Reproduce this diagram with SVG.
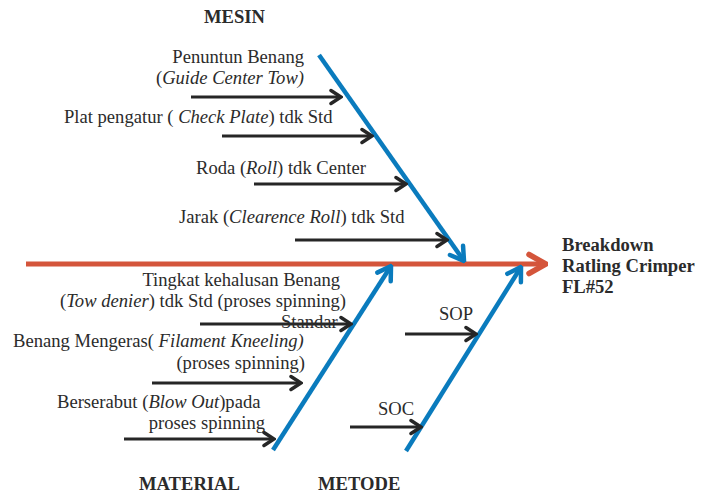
<svg xmlns="http://www.w3.org/2000/svg" width="711" height="494" viewBox="0 0 711 494">
<style>
text{font-family:"Liberation Serif","Times New Roman",serif;font-size:18.6px;fill:#2b2b2b}
.b{font-weight:bold}
.i{font-style:italic}
.e{text-anchor:end}
.blk{stroke:#262626;stroke-width:3;fill:none}
.blu{stroke:#0a7bbd;stroke-width:4.5;fill:none}
.red{stroke:#d4553b;stroke-width:5;fill:none}
</style>
<defs>
<marker id="ak" markerUnits="userSpaceOnUse" viewBox="-14 -10 16 20" refX="0" refY="0" markerWidth="16" markerHeight="20" orient="auto">
<path d="M-10,-6.5 L0,0 L-10,6.5" fill="none" stroke="#262626" stroke-width="3.5" stroke-linecap="round" stroke-linejoin="miter"/>
</marker>
<marker id="ab" markerUnits="userSpaceOnUse" viewBox="-18 -12 20 24" refX="0" refY="0" markerWidth="20" markerHeight="24" orient="auto">
<path d="M-13,-8 L0,0 L-13,8" fill="none" stroke="#0a7bbd" stroke-width="4.5" stroke-linecap="round"/>
</marker>
<marker id="ar" markerUnits="userSpaceOnUse" viewBox="-22 -14 24 28" refX="0" refY="0" markerWidth="24" markerHeight="28" orient="auto">
<path d="M-17,-9.5 L0,0 L-17,9.5" fill="none" stroke="#d4553b" stroke-width="5.5" stroke-linecap="round"/>
</marker>
</defs>
<g id="connectors">
<line class="red" x1="26" y1="264" x2="546" y2="264" marker-end="url(#ar)"/>
<line class="blu" x1="319" y1="55" x2="464" y2="261" marker-end="url(#ab)"/>
<line class="blu" x1="273" y1="450" x2="391" y2="266" marker-end="url(#ab)"/>
<line class="blu" x1="406" y1="451" x2="521" y2="267" marker-end="url(#ab)"/>
<line class="blk" x1="191" y1="97" x2="341" y2="97" marker-end="url(#ak)"/>
<line class="blk" x1="222" y1="136" x2="372" y2="136" marker-end="url(#ak)"/>
<line class="blk" x1="254" y1="184" x2="406" y2="184" marker-end="url(#ak)"/>
<line class="blk" x1="295" y1="240" x2="447" y2="240" marker-end="url(#ak)"/>
<line class="blk" x1="200" y1="324" x2="351" y2="324" marker-end="url(#ak)"/>
<line class="blk" x1="152" y1="383" x2="301" y2="383" marker-end="url(#ak)"/>
<line class="blk" x1="124" y1="439" x2="274" y2="439" marker-end="url(#ak)"/>
<line class="blk" x1="405" y1="334" x2="476" y2="334" marker-end="url(#ak)"/>
<line class="blk" x1="350" y1="427" x2="421" y2="427" marker-end="url(#ak)"/>
</g>
<g id="mesin">
<text class="b" x="204" y="23">MESIN</text>
<text class="e" x="304" y="63">Penuntun Benang</text>
<text class="e" x="304" y="84">(<tspan class="i">Guide Center Tow)</tspan></text>
<text x="64" y="123">Plat pengatur ( <tspan class="i">Check Plate</tspan>) tdk Std</text>
<text x="196" y="174">Roda (<tspan class="i">Roll</tspan>) tdk Center</text>
<text x="179" y="223">Jarak (<tspan class="i">Clearence Roll</tspan>) tdk Std</text>
</g>
<g id="effect">
<text class="b" x="562" y="251">Breakdown</text>
<text class="b" x="562" y="272">Ratling Crimper</text>
<text class="b" x="562" y="293">FL#52</text>
</g>
<g id="material">
<text class="b" x="139" y="490">MATERIAL</text>
<text class="e" x="340" y="286">Tingkat kehalusan Benang</text>
<text class="e" x="346" y="307">(<tspan class="i">Tow denier</tspan>) tdk Std (proses spinning)</text>
<text x="281" y="328">Standar</text>
<text x="13" y="347">Benang Mengeras( <tspan class="i">Filament Kneeling)</tspan></text>
<text class="e" x="305" y="369">(proses spinning)</text>
<text x="57" y="408">Berserabut (<tspan class="i">Blow Out</tspan>)pada</text>
<text class="e" x="265" y="429">proses spinning</text>
</g>
<g id="metode">
<text class="b" x="318" y="490">METODE</text>
<text x="439" y="320">SOP</text>
<text x="378" y="415">SOC</text>
</g>
</svg>
